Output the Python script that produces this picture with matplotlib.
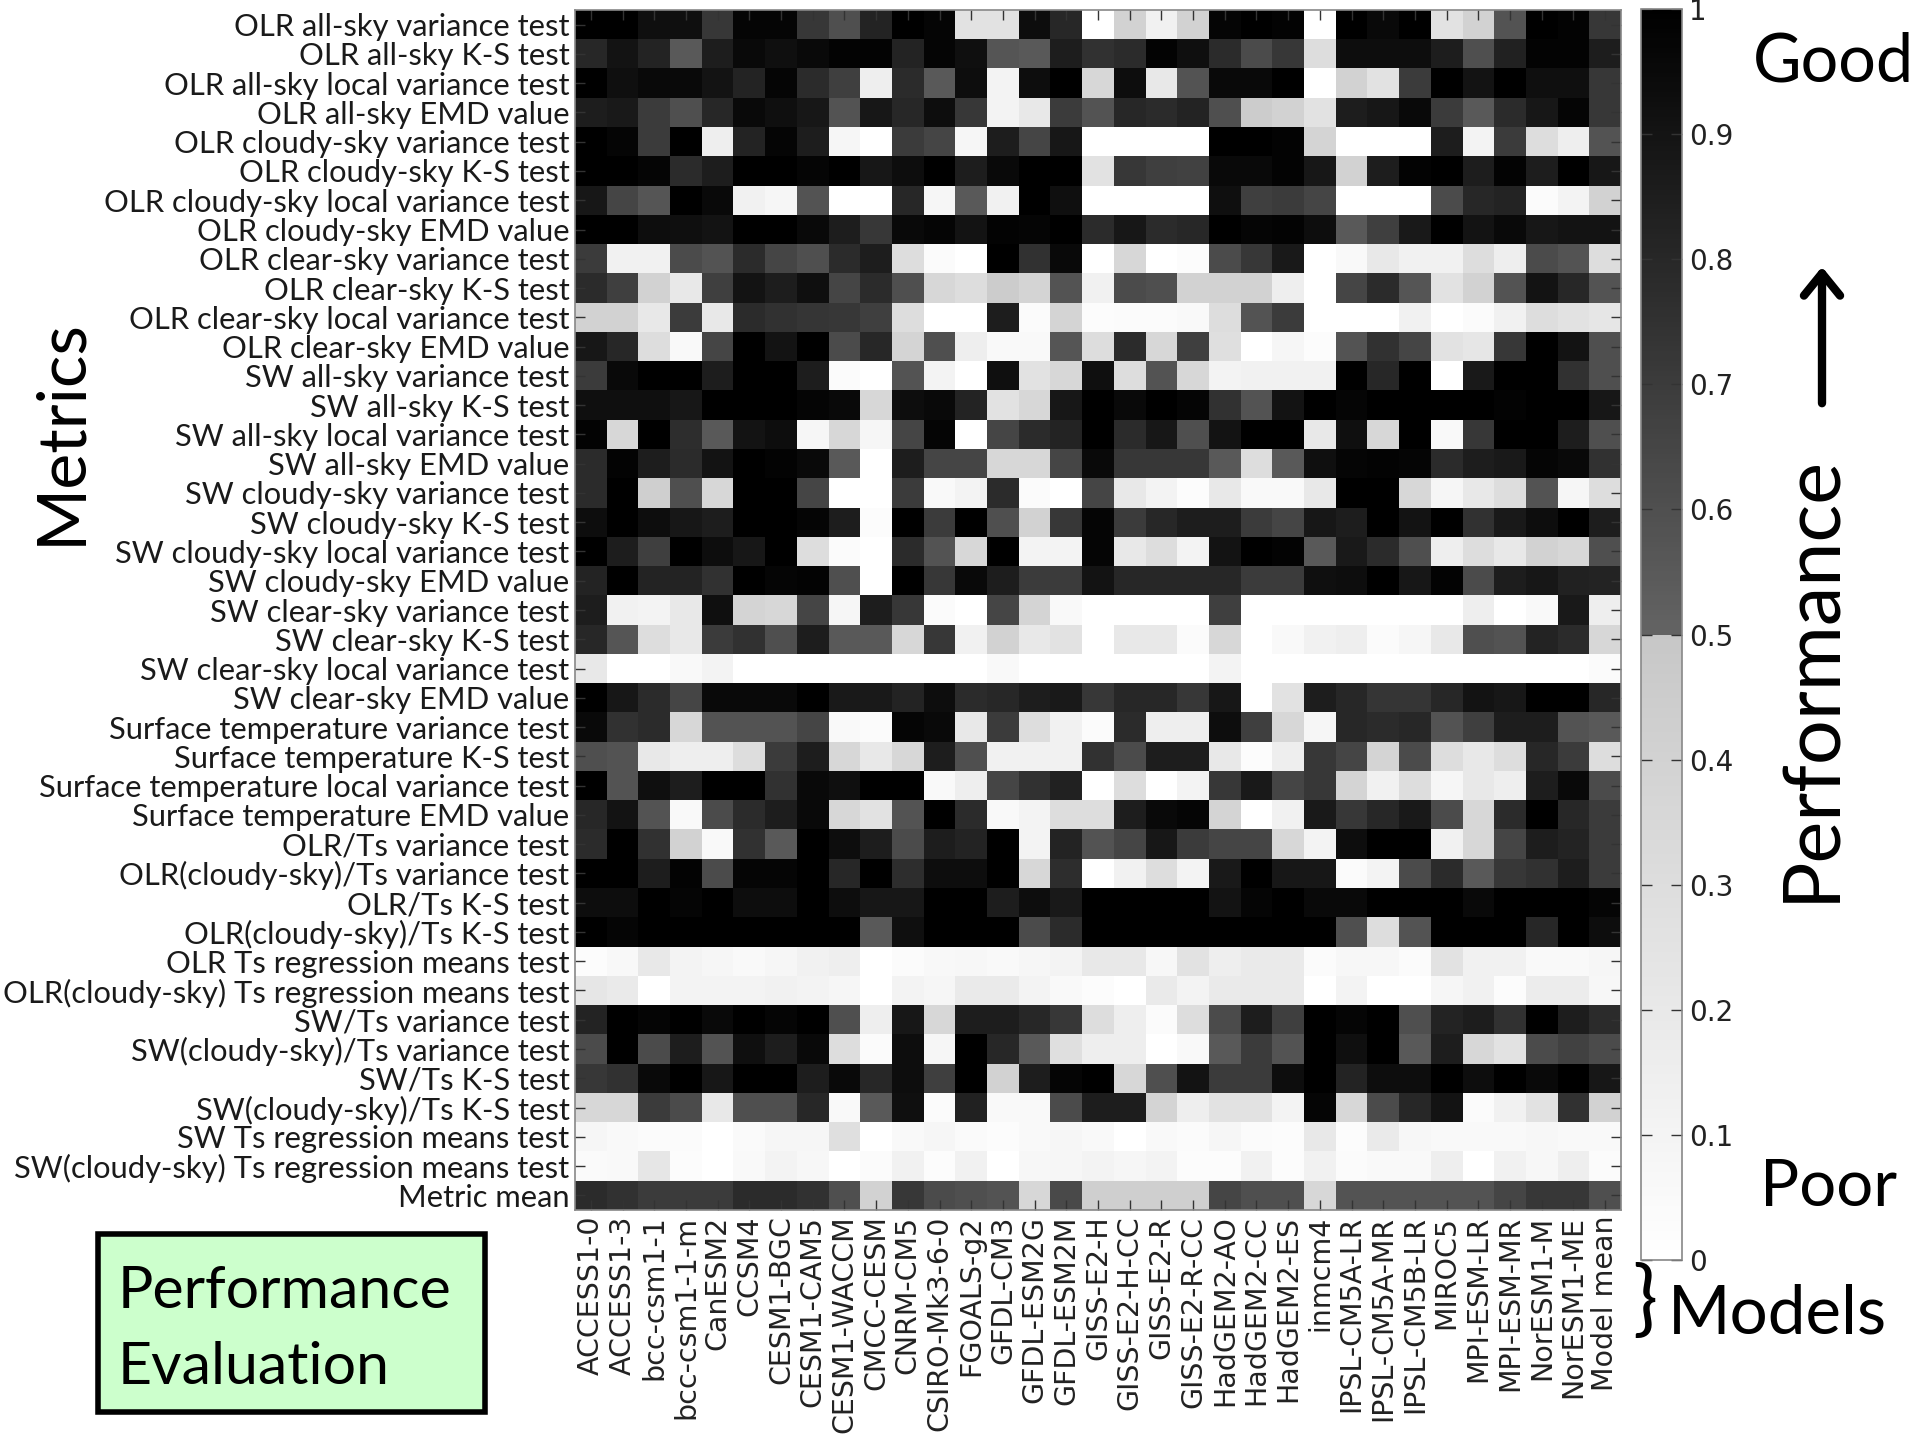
import numpy as np
import matplotlib
matplotlib.use('Agg')
import matplotlib.pyplot as plt
from matplotlib.colors import LinearSegmentedColormap
from matplotlib.patches import Rectangle, FancyArrowPatch

metrics = [
    "OLR all-sky variance test", "OLR all-sky K-S test", "OLR all-sky local variance test", "OLR all-sky EMD value",
    "OLR cloudy-sky variance test", "OLR cloudy-sky K-S test", "OLR cloudy-sky local variance test", "OLR cloudy-sky EMD value",
    "OLR clear-sky variance test", "OLR clear-sky K-S test", "OLR clear-sky local variance test", "OLR clear-sky EMD value",
    "SW all-sky variance test", "SW all-sky K-S test", "SW all-sky local variance test", "SW all-sky EMD value",
    "SW cloudy-sky variance test", "SW cloudy-sky K-S test", "SW cloudy-sky local variance test", "SW cloudy-sky EMD value",
    "SW clear-sky variance test", "SW clear-sky K-S test", "SW clear-sky local variance test", "SW clear-sky EMD value",
    "Surface temperature variance test", "Surface temperature K-S test", "Surface temperature local variance test", "Surface temperature EMD value",
    "OLR/Ts variance test", "OLR(cloudy-sky)/Ts variance test", "OLR/Ts K-S test", "OLR(cloudy-sky)/Ts K-S test",
    "OLR Ts regression means test", "OLR(cloudy-sky) Ts regression means test",
    "SW/Ts variance test", "SW(cloudy-sky)/Ts variance test", "SW/Ts K-S test", "SW(cloudy-sky)/Ts K-S test",
    "SW Ts regression means test", "SW(cloudy-sky) Ts regression means test",
    "Metric mean",
]

models = [
    "ACCESS1-0", "ACCESS1-3", "bcc-csm1-1", "bcc-csm1-1-m", "CanESM2", "CCSM4", "CESM1-BGC", "CESM1-CAM5",
    "CESM1-WACCM", "CMCC-CESM", "CNRM-CM5", "CSIRO-Mk3-6-0", "FGOALS-g2", "GFDL-CM3", "GFDL-ESM2G", "GFDL-ESM2M",
    "GISS-E2-H", "GISS-E2-H-CC", "GISS-E2-R", "GISS-E2-R-CC", "HadGEM2-AO", "HadGEM2-CC", "HadGEM2-ES", "inmcm4",
    "IPSL-CM5A-LR", "IPSL-CM5A-MR", "IPSL-CM5B-LR", "MIROC5", "MPI-ESM-LR", "MPI-ESM-MR", "NorESM1-M", "NorESM1-ME",
    "Model mean",
]

olr_allsky = [
    [1,1,.92,.92,.72,.97,.97,.72,.6,.82,1,.97,.25,.25,.93,.8,0,.4,.12,.4,.97,1,.98,0,1,.95,1,.25,.4,.58,1,.98,.72],
    [.8,.9,.82,.55,.85,.95,.92,.95,.98,.98,.82,.97,.92,.57,.55,.85,.75,.78,.98,.92,.78,.62,.72,.3,.93,.93,.93,.85,.6,.83,.98,.98,.85],
    [1,.92,.95,.95,.9,.82,.97,.78,.68,.15,.78,.55,.93,.1,.93,1,.35,.93,.2,.58,.95,.95,1,0,.4,.25,.7,1,.9,1,.92,.92,.72],
    [.85,.87,.7,.6,.8,.95,.92,.88,.58,.88,.8,.93,.72,.1,.2,.7,.58,.8,.78,.82,.6,.45,.4,.25,.85,.88,.95,.7,.55,.78,.88,.97,.72],
]
olr_cloudy = [
    [1,.97,.7,1,.15,.82,.97,.85,.08,0,.7,.65,.08,.85,.65,.88,0,0,0,0,1,1,.98,.38,0,0,0,.85,.1,.7,.3,.15,.58],
    [1,1,.97,.78,.85,1,1,.97,1,.88,.93,1,.85,.95,1,1,.25,.72,.68,.67,.95,.95,.98,.88,.4,.85,.98,1,.85,.98,.85,1,.88],
    [.88,.65,.57,1,.95,.12,.08,.58,0,0,.8,.08,.55,.12,1,.92,0,0,0,0,.92,.68,.7,.65,0,0,0,.62,.8,.82,.03,.1,.4],
    [1,1,.93,.92,.9,1,1,.95,.85,.72,.95,.97,.9,.98,.97,1,.78,.88,.78,.8,1,.97,.98,.93,.55,.68,.87,1,.9,.95,.88,.9,.9],
]
olr_clear = [
    [.7,.12,.12,.62,.58,.78,.65,.6,.78,.85,.3,.03,0,1,.75,.95,0,.35,0,.02,.62,.72,.87,0,.05,.2,.12,.12,.3,.15,.62,.58,.3],
    [.78,.68,.4,.2,.68,.9,.85,.92,.65,.78,.6,.35,.3,.45,.38,.58,.12,.62,.6,.4,.4,.4,.15,0,.65,.78,.57,.25,.4,.58,.9,.8,.58],
    [.4,.4,.2,.7,.2,.78,.75,.73,.72,.68,.3,0,0,.85,.03,.38,.02,.03,.03,.05,.3,.58,.7,0,0,0,.12,0,.03,.12,.3,.25,.22],
    [.88,.8,.3,.05,.65,1,.9,1,.62,.8,.38,.6,.15,.05,.05,.57,.3,.78,.35,.68,.28,0,.08,.02,.58,.75,.65,.25,.22,.72,1,.9,.6],
]
sw_allsky = [
    [.7,.95,1,1,.85,1,1,.85,.03,0,.58,.1,0,.92,.25,.35,.92,.3,.58,.35,.1,.12,.12,.12,1,.8,1,0,.87,1,1,.75,.6],
    [.92,.92,.92,.88,1,1,1,.97,.95,.35,.93,.95,.82,.25,.35,.88,1,.95,1,.97,.75,.58,.9,1,.97,1,1,1,1,.98,1,1,.88],
    [.98,.35,1,.77,.55,.9,.93,.08,.35,.08,.65,.97,0,.65,.78,.82,1,.78,.88,.6,.9,1,1,.2,.92,.35,1,.05,.72,1,1,.85,.6],
    [.78,.98,.85,.78,.9,1,.98,.95,.55,0,.85,.65,.65,.35,.35,.65,.95,.72,.72,.72,.55,.3,.55,.92,.97,.98,.97,.78,.85,.87,.97,.95,.75],
]
sw_cloudy = [
    [.78,1,.42,.6,.35,1,1,.65,0,0,.7,.05,.1,.78,.03,0,.65,.2,.1,.02,.2,.05,.05,.2,1,1,.35,.08,.2,.3,.58,.08,.3],
    [.93,1,.93,.88,.85,1,1,.97,.85,.02,1,.7,1,.6,.4,.72,.97,.7,.8,.85,.85,.7,.65,.88,.85,1,.9,1,.75,.87,.93,1,.85],
    [1,.85,.68,1,.93,.88,1,.3,.03,0,.78,.58,.35,1,.1,.1,.97,.2,.3,.1,.9,1,.98,.55,.87,.78,.6,.15,.3,.2,.4,.35,.6],
    [.82,1,.82,.82,.75,1,.97,.98,.6,0,1,.72,.95,.85,.7,.7,.9,.8,.8,.8,.8,.7,.7,.92,.93,1,.88,.98,.62,.85,.88,.83,.82],
]
sw_clear = [
    [.85,.12,.1,.2,.92,.38,.35,.65,.08,.85,.72,.03,0,.65,.38,.05,0,0,0,0,.68,0,0,0,0,0,0,0,.15,0,.05,.87,.15],
    [.8,.57,.3,.2,.7,.75,.6,.85,.55,.55,.35,.72,.12,.4,.2,.25,0,.2,.2,.03,.35,0,.05,.12,.15,.03,.08,.2,.6,.58,.82,.78,.35],
    [.2,0,0,.05,.1,0,0,0,0,0,0,0,0,.05,0,0,0,0,0,0,.1,0,0,0,0,0,0,0,0,0,0,0,.03],
    [1,.88,.78,.65,.95,.95,.95,1,.87,.87,.82,.93,.78,.8,.85,.87,.72,.8,.8,.72,.88,0,.25,.85,.8,.73,.73,.8,.9,.88,1,1,.8],
]
surface_temp = [
    [.95,.75,.78,.35,.58,.58,.58,.65,.05,.03,.97,.95,.2,.7,.3,.12,.03,.78,.15,.15,.93,.68,.35,.08,.8,.78,.8,.58,.68,.85,.85,.58,.55],
    [.6,.58,.2,.15,.15,.3,.7,.85,.35,.2,.35,.85,.6,.12,.12,.12,.75,.62,.85,.85,.2,.02,.15,.72,.65,.38,.62,.3,.2,.3,.8,.7,.3],
    [1,.58,.92,.85,1,1,.75,.95,.92,1,1,.05,.15,.65,.75,.83,0,.3,0,.1,.72,.87,.65,.72,.38,.12,.3,.08,.2,.15,.85,.95,.62],
    [.8,.9,.58,.05,.62,.78,.85,.95,.35,.25,.58,1,.78,.05,.1,.3,.3,.85,.95,.97,.38,0,.12,.87,.72,.8,.87,.62,.35,.78,1,.8,.7],
]
ts_var_ks = [
    [.78,1,.75,.4,.05,.75,.55,1,.93,.85,.62,.85,.82,1,.1,.82,.58,.65,.88,.7,.65,.65,.35,.1,.93,1,1,.12,.35,.65,.85,.82,.7],
    [1,1,.85,.98,.62,.97,.97,1,.8,1,.77,.93,.93,1,.35,.77,0,.12,.3,.1,.87,1,.88,.88,.03,.1,.62,.78,.55,.72,.75,.85,.7],
    [.93,.93,1,.97,1,.93,.93,1,.93,.88,.88,1,1,.85,.93,.87,1,1,1,1,.9,.97,1,.95,.95,1,1,1,.95,1,1,1,.97],
    [1,.97,1,1,1,1,1,1,1,.55,.92,1,1,1,.62,.78,1,1,1,1,1,1,1,1,.6,.3,.58,1,1,1,.8,1,.93],
]
olr_ts_reg = [
    [.02,.06,.2,.1,.08,.05,.08,.12,.15,0,.03,.06,.07,.05,.08,.1,.2,.2,.07,.25,.15,.18,.18,.03,.07,.07,.03,.25,.12,.12,.05,.05,.08],
    [.22,.18,0,.1,.1,.1,.12,.1,.08,0,.1,.08,.18,.18,.1,.05,.02,0,.18,.1,.18,.18,.18,0,.1,0,0,.08,.12,.02,.17,.17,.07],
]
sw_ts = [
    [.82,1,.97,1,.95,1,.97,1,.6,.15,.88,.35,.85,.85,.8,.72,.3,.15,.03,.3,.62,.85,.68,1,.97,1,.6,.82,.85,.75,1,.85,.78],
    [.62,1,.62,.85,.58,.92,.85,.95,.3,.03,.93,.08,1,.8,.55,.28,.15,.15,0,.05,.55,.7,.58,1,.92,1,.55,.85,.35,.25,.62,.67,.62],
    [.72,.75,.95,1,.88,1,1,.85,.95,.8,.93,.68,1,.4,.85,.97,1,.35,.6,.9,.7,.7,.93,1,.82,.93,.93,1,.93,1,.95,1,.88],
    [.35,.35,.7,.62,.2,.6,.6,.8,.05,.55,.92,.03,.83,.05,.05,.62,.85,.85,.38,.15,.25,.25,.1,.97,.35,.62,.8,.9,.03,.12,.25,.75,.4],
]
sw_ts_reg = [
    [.08,.05,.03,.03,0,.04,.08,.08,.28,0,.05,.08,.04,.02,.05,.08,.05,0,.05,.03,.08,.03,.02,.2,.02,.18,.07,.05,.05,.05,.07,.05,.05],
    [.04,.05,.22,.02,0,.05,.1,.07,0,.03,.12,.02,.12,0,.07,.08,.1,.08,.1,.02,.02,.12,.02,.12,.03,.05,.05,.15,0,.12,.07,.15,.03],
]
metric_mean = [
    [.78,.75,.7,.7,.7,.78,.78,.75,.6,.4,.72,.62,.6,.58,.35,.63,.42,.42,.42,.42,.65,.6,.6,.35,.58,.58,.58,.58,.58,.65,.72,.72,.6],
]

performance = np.array(olr_allsky + olr_cloudy + olr_clear + sw_allsky + sw_cloudy + sw_clear
                       + surface_temp + ts_var_ks + olr_ts_reg + sw_ts + sw_ts_reg + metric_mean)

W, H = 1920, 1440
label_font = ['Lato', 'DejaVu Sans']

#white to light grey up to 0.5, then jump to dark grey and go to black
grey_cmap = LinearSegmentedColormap.from_list('perf', [
    (0.0, (1, 1, 1)),
    (0.4999, (0.78, 0.78, 0.78)),
    (0.5, (0.39, 0.39, 0.39)),
    (1.0, (0, 0, 0)),
], N=256)


def px_axes(left, top, right, bottom):
    return fig.add_axes([left / W, 1 - bottom / H, (right - left) / W, (bottom - top) / H])


def px_text(x, y, s, **kw):
    fig.text(x / W, 1 - y / H, s, **kw)


fig = plt.figure(figsize=(19.2, 14.4), dpi=100)

ax = px_axes(575, 10, 1621, 1210)
im = ax.imshow(performance, cmap=grey_cmap, vmin=0, vmax=1, aspect='auto', interpolation='nearest')
ax.set_xticks(range(len(models)))
ax.set_xticklabels(models, rotation=90, fontsize=20.5, color='#222222', family='DejaVu Sans')
ax.set_yticks(range(len(metrics)))
ax.set_yticklabels(metrics, fontsize=22.2, color='#1a1a1a', family=label_font)
ax.tick_params(axis='x', direction='in', length=7, width=1, color='#333333', top=True, pad=4)
ax.tick_params(axis='y', direction='in', length=7, width=1, color='#333333', right=True, pad=4)
for s in ax.spines.values():
    s.set_color('#888888')
    s.set_linewidth(1.2)

cax = px_axes(1641, 9, 1682, 1260)
cb = fig.colorbar(im, cax=cax)
cb.set_ticks(np.arange(0, 1.01, 0.1))
cb.set_ticklabels(['0', '0.1', '0.2', '0.3', '0.4', '0.5', '0.6', '0.7', '0.8', '0.9', '1'])
cax.tick_params(axis='y', direction='in', length=8, width=1, color='#333333', labelsize=20,
                labelcolor='#222222', pad=5, left=True, right=True)
cb.outline.set_edgecolor('#888888')
cb.outline.set_linewidth(1.2)

px_text(1834, 62, 'Good', fontsize=48, family=label_font, ha='center', va='center')
px_text(1829, 1188, 'Poor', fontsize=47, family=label_font, ha='center', va='center')
px_text(1777, 1315, 'Models', fontsize=48.5, family=label_font, ha='center', va='center')
px_text(61, 432, 'Metrics', fontsize=49, family=label_font, rotation=90, ha='center', va='center')
px_text(1812, 678, 'Performance', fontsize=57, family=label_font, rotation=90, ha='center', va='center')
px_text(1645, 1303, '}', fontsize=60, family=label_font, ha='center', va='center')

#arrow and legend box, in figure pixels
fig.add_artist(FancyArrowPatch(
    (1822 / W, 1 - 406 / H), (1822 / W, 1 - 264 / H), transform=fig.transFigure,
    arrowstyle='->,head_length=16,head_width=13', linewidth=6, color='black', mutation_scale=1))
fig.add_artist(Rectangle((98 / W, 1 - 1412 / H), 387 / W, 178 / H, transform=fig.transFigure,
                         facecolor='#ccffcc', edgecolor='black', linewidth=4))
px_text(118, 1308, 'Performance', fontsize=42.5, family=label_font, ha='left', va='baseline')
px_text(118, 1384, 'Evaluation', fontsize=42.5, family=label_font, ha='left', va='baseline')

fig.savefig('out.png', dpi=100)
